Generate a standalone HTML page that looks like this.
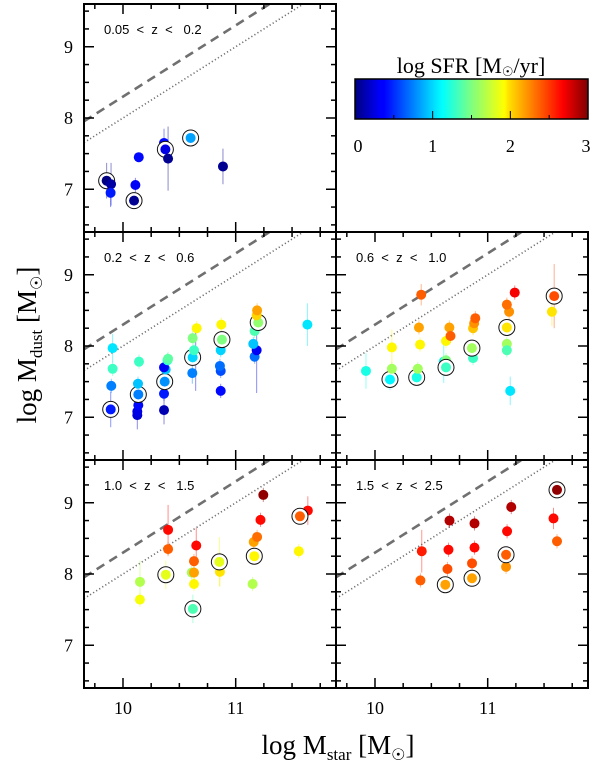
<!DOCTYPE html>
<html><head><meta charset="utf-8">
<style>
html,body{margin:0;padding:0;background:#fff;}
svg{display:block;}
.ser{font-family:"Liberation Serif",serif;}
.sans{font-family:"Liberation Sans",sans-serif;white-space:pre;}
</style></head>
<body>
<svg id="fig" width="600" height="764" viewBox="0 0 600 764" xmlns="http://www.w3.org/2000/svg">
<defs>
<linearGradient id="jet" x1="0" x2="1" y1="0" y2="0">
<stop offset="0" stop-color="#00007f"/><stop offset="0.11" stop-color="#0000ff"/>
<stop offset="0.125" stop-color="#0000ff"/><stop offset="0.34" stop-color="#00dfff"/>
<stop offset="0.375" stop-color="#00ffff"/><stop offset="0.5" stop-color="#7fff7f"/>
<stop offset="0.64" stop-color="#ffff00"/><stop offset="0.66" stop-color="#ffe000"/>
<stop offset="0.89" stop-color="#ff0000"/><stop offset="1" stop-color="#7f0000"/>
</linearGradient>
</defs>
<g id="layer"></g>
</svg>
<script>
// panel data: [logMstar, logMdust, logSFR, circled(1/0), err]
const panelLabels = ["0.05  <  z  <   0.2","0.2  <  z  <   0.6","0.6  <  z  <   1.0","1.0  <  z  <   1.5","1.5  <  z  <  2.5"];
const p1 = [[9.855,7.12,0,1,0.25],[9.894,7.07,0.1,0,0.3],[9.89,6.95,0.45,0,0.2],[10.098,6.84,0.05,1,0.1],[10.11,7.06,0.35,0,0.1],[10.14,7.45,0.4,0,0.05],[10.364,7.65,0.4,0,0.2],[10.376,7.56,0.3,1,0.1],[10.40,7.43,0.05,0,0.45],[10.60,7.72,0.85,1,0.05],[10.887,7.32,0.05,0,0.25]];
const p2 = [[9.891,7.11,0.45,1,0.25],[9.896,7.44,0.75,0,0.1],[9.908,7.68,1.3,0,0.1],[9.908,7.97,1.05,0,0.2],[10.127,7.03,0.25,0,0.2],[10.127,7.08,0.3,0,0.1],[10.136,7.17,0.4,0,0.1],[10.136,7.32,0.75,1,0.1],[10.133,7.47,0.95,0,0.1],[10.142,7.78,1.3,0,0.1],[10.364,7.10,0.15,0,0.2],[10.364,7.33,0.45,0,0.1],[10.37,7.50,0.8,1,0.1],[10.379,7.67,0.95,0,0.1],[10.364,7.70,0.35,0,0.1],[10.395,7.80,1.25,0,0.1],[10.40,7.82,1.4,0,0.1],[10.615,7.62,0.75,0,0.15],[10.645,7.82,0.3,0,0.45],[10.618,7.84,1.0,1,0.1],[10.63,7.94,1.3,0,0.1],[10.618,8.11,1.5,0,0.1],[10.654,8.25,1.9,0,0.1],[10.867,7.37,0.4,0,0.1],[10.867,7.65,0.6,0,0.1],[10.86,7.72,0.7,0,0.1],[10.867,7.94,1.0,0,0.1],[10.878,8.09,1.5,1,0.1],[10.872,8.30,1.9,0,0.1],[11.168,7.85,0.7,0,0.1],[11.186,7.94,0.35,0,0.6],[11.156,8.03,0.95,0,0.1],[11.168,8.21,1.35,0,0.1],[11.20,8.33,1.55,1,0.1],[11.186,8.43,2.0,0,0.1],[11.19,8.50,2.15,0,0.1],[11.636,8.30,1.05,0,0.3]];
const p3 = [[9.92,7.65,1.2,0,0.25],[10.133,7.53,1.1,1,0.15],[10.15,7.68,1.6,0,0.1],[10.15,7.98,1.9,0,0.25],[10.37,7.56,1.2,1,0.1],[10.38,7.68,1.6,0,0.1],[10.40,8.02,1.9,0,0.1],[10.39,8.26,2.15,0,0.1],[10.41,8.72,2.35,0,0.15],[10.61,7.78,1.1,0,0.3],[10.63,7.80,1.5,0,0.1],[10.63,7.70,1.3,1,0.1],[10.63,8.07,1.9,0,0.1],[10.66,8.26,2.15,0,0.1],[10.67,8.14,2.35,0,0.1],[10.87,7.83,1.3,0,0.1],[10.86,7.97,1.6,1,0.1],[10.87,8.25,2.05,0,0.1],[10.88,8.32,2.2,0,0.1],[10.89,8.39,2.35,0,0.1],[11.17,8.03,1.6,0,0.1],[11.17,7.94,1.35,0,0.1],[11.20,7.37,1.05,0,0.2],[11.17,8.26,1.95,1,0.1],[11.19,8.48,2.2,0,0.1],[11.17,8.58,2.3,0,0.1],[11.24,8.75,2.65,0,0.1],[11.57,8.48,1.95,0,0.2],[11.59,8.70,2.4,1,0.45]];
const p4 = [[10.151,7.89,1.65,0,0.3],[10.15,7.64,1.85,0,0.1],[10.40,8.62,2.6,0,0.35],[10.40,8.35,2.35,0,0.1],[10.38,7.99,1.8,1,0.2],[10.61,8.02,1.6,0,0.1],[10.65,8.40,2.6,0,0.25],[10.63,8.18,2.35,0,0.1],[10.63,8.02,2.15,0,0.1],[10.63,7.86,1.9,0,0.1],[10.62,7.51,1.35,1,0.2],[10.86,8.03,1.95,0,0.2],[10.86,8.20,2.1,0,0.1],[10.855,8.17,1.8,1,0.35],[11.15,7.86,1.65,0,0.1],[11.16,8.45,2.15,0,0.1],[11.19,8.52,2.3,0,0.1],[11.165,8.25,1.9,1,0.1],[11.22,8.76,2.6,0,0.1],[11.245,9.11,2.95,0,0.1],[11.56,8.32,1.9,0,0.1],[11.64,8.89,2.6,0,0.2],[11.57,8.81,2.35,1,0.1]];
const p5 = [[10.403,7.91,2.35,0,0.1],[10.415,8.32,2.55,0,0.3],[10.624,7.85,2.15,1,0.1],[10.643,8.07,2.4,0,0.1],[10.652,8.34,2.6,0,0.1],[10.661,8.75,2.85,0,0.1],[10.861,7.94,2.15,1,0.1],[10.861,8.15,2.4,0,0.1],[10.883,8.37,2.6,0,0.1],[10.883,8.71,2.85,0,0.1],[11.163,8.10,2.2,0,0.1],[11.163,8.27,2.35,1,0.1],[11.172,8.60,2.6,0,0.1],[11.209,8.94,2.85,0,0.1],[11.615,8.46,2.35,0,0.1],[11.584,8.78,2.6,0,0.15],[11.615,9.18,2.95,1,0.1]];
const xTicks = [10, 11];
const yTicks = [7, 8, 9];
const cbTicks = [0, 1, 2, 3];
const lineOffsets = [1.7, 2.0];

const NS = "http://www.w3.org/2000/svg";
const layer = document.getElementById("layer");
function mk(tag, attrs, parent) {
  const e = document.createElementNS(NS, tag);
  for (const k in attrs) e.setAttribute(k, attrs[k]);
  (parent || layer).appendChild(e);
  return e;
}
const X0 = 9.654, X1 = 11.89, Y0 = 6.40, Y1 = 9.60, PW = 252, PH = 228;
function jet(v) {
  const t = Math.max(0, Math.min(1, v / 3));
  function c(x) { return Math.max(0, Math.min(1, 1.5 - Math.abs(4 * t - x))); }
  const r = c(3), g = c(2), b = c(1);
  return "rgb(" + Math.round(r * 255) + "," + Math.round(g * 255) + "," + Math.round(b * 255) + ")";
}
const panels = [
  {l: 84, t: 4, data: p1, lab: panelLabels[0], xl: false, yl: true, name: "panel-z005-02"},
  {l: 84, t: 232, data: p2, lab: panelLabels[1], xl: false, yl: true, name: "panel-z02-06"},
  {l: 336, t: 232, data: p3, lab: panelLabels[2], xl: false, yl: false, name: "panel-z06-10"},
  {l: 84, t: 460, data: p4, lab: panelLabels[3], xl: true, yl: true, name: "panel-z10-15"},
  {l: 336, t: 460, data: p5, lab: panelLabels[4], xl: true, yl: false, name: "panel-z15-25"}
];
panels.forEach(function(p) {
  const g = mk("g", {});
  
  
  const sx = v => p.l + (v - X0) / (X1 - X0) * PW;
  const sy = v => p.t + (Y1 - v) / (Y1 - Y0) * PH;
  const cid = "clip-" + p.name;
  const cp = mk("clipPath", {id: cid}, g);
  mk("rect", {x: p.l, y: p.t, width: PW, height: PH}, cp);
  const inner = mk("g", {"clip-path": "url(#" + cid + ")"}, g);
  lineOffsets.forEach(function(o, i) {
    const ln = mk("line", {x1: sx(X0), y1: sy(X0 - o), x2: sx(X1), y2: sy(X1 - o), stroke: "#707070",
      "stroke-width": i === 0 ? 2.6 : 1.6, "stroke-dasharray": i === 0 ? "9,6" : "1.2,2.4"}, inner);
    
    
  });
  p.data.forEach(function(d) {
    const col = jet(d[2]);
    const eb = mk("line", {x1: sx(d[0]), x2: sx(d[0]), y1: sy(d[1] - d[4]), y2: sy(d[1] + d[4]), stroke: col, "stroke-width": 1, opacity: 0.45}, inner);
    
    
  });
  p.data.forEach(function(d) {
    const col = jet(d[2]);
    if (d[3]) {
      const ring = mk("circle", {cx: sx(d[0]), cy: sy(d[1]), r: 8, fill: "#fff", stroke: "#111", "stroke-width": 1}, inner);
      
      
    }
    const pt = mk("circle", {cx: sx(d[0]), cy: sy(d[1]), r: 5, fill: col}, inner);
    
    
  });
  const fr = mk("rect", {x: p.l, y: p.t, width: PW, height: PH, fill: "none", stroke: "#000", "stroke-width": 2}, g);
  
  
  for (let v = 9.75; v < X1; v += 0.25) {
    const maj = Math.abs(v - Math.round(v)) < 0.01;
    const L = maj ? 10 : 5;
    mk("line", {x1: sx(v), x2: sx(v), y1: p.t + PH, y2: p.t + PH - L, stroke: "#000", "stroke-width": 1.5}, g);
    mk("line", {x1: sx(v), x2: sx(v), y1: p.t, y2: p.t + L, stroke: "#000", "stroke-width": 1.5}, g);
  }
  for (let v = 6.5; v < Y1; v += 0.25) {
    const maj = Math.abs(v - Math.round(v)) < 0.01;
    const L = maj ? 10 : 5;
    mk("line", {x1: p.l, x2: p.l + L, y1: sy(v), y2: sy(v), stroke: "#000", "stroke-width": 1.5}, g);
    mk("line", {x1: p.l + PW, x2: p.l + PW - L, y1: sy(v), y2: sy(v), stroke: "#000", "stroke-width": 1.5}, g);
  }
  if (p.yl) yTicks.forEach(function(v) {
    const t = mk("text", {x: p.l - 11, y: sy(v) + 6, "text-anchor": "end", "font-size": 18, class: "ser"}, g);
    t.textContent = v;
    
    
  });
  if (p.xl) xTicks.forEach(function(v) {
    const t = mk("text", {x: sx(v), y: p.t + PH + 26, "text-anchor": "middle", "font-size": 18, class: "ser"}, g);
    t.textContent = v;
    
    
  });
  const lb = mk("text", {x: p.l + 20, y: p.t + 30, "font-size": 13, class: "sans"}, g);
  lb.textContent = p.lab;
  
  
});
const cb = mk("g", {});


const CBL = 355, CBR = 588, CBT = 79, CBB = 119;
mk("rect", {x: CBL, y: CBT, width: CBR - CBL, height: CBB - CBT, fill: "url(#jet)", stroke: "#000", "stroke-width": 1.5}, cb);
const cx = v => CBL + v / 3 * (CBR - CBL);
for (let v = 0.5; v < 3; v += 0.5) {
  const maj = Math.abs(v - Math.round(v)) < 0.01;
  mk("line", {x1: cx(v), x2: cx(v), y1: CBB, y2: CBB - (maj ? 8 : 4), stroke: "#000", "stroke-width": 1}, cb);
}
cbTicks.forEach(function(v) {
  const t = mk("text", {x: cx(v) + (v === 0 ? 3 : v === 3 ? -2 : 0), y: 152, "text-anchor": "middle", "font-size": 18, class: "ser"}, cb);
  t.textContent = v;
  
  
});
</script>
<svg width="600" height="764" style="position:absolute;left:0;top:0" xmlns="http://www.w3.org/2000/svg">
<text x="471" y="73" text-anchor="middle" font-size="22" class="ser">log SFR [M<tspan font-size="13" dy="3">☉</tspan><tspan dy="-3">/yr]</tspan></text>
<text transform="translate(36,345) rotate(-90)" text-anchor="middle" font-size="27" class="ser">log M<tspan font-size="17" dy="6">dust</tspan><tspan dy="-6"> [M</tspan><tspan font-size="16" dy="6">☉</tspan><tspan dy="-6">]</tspan></text>
<text x="338" y="754" text-anchor="middle" font-size="27" class="ser">log M<tspan font-size="17" dy="6">star</tspan><tspan dy="-6"> [M</tspan><tspan font-size="16" dy="6">☉</tspan><tspan dy="-6">]</tspan></text>
</svg>
</body></html>
